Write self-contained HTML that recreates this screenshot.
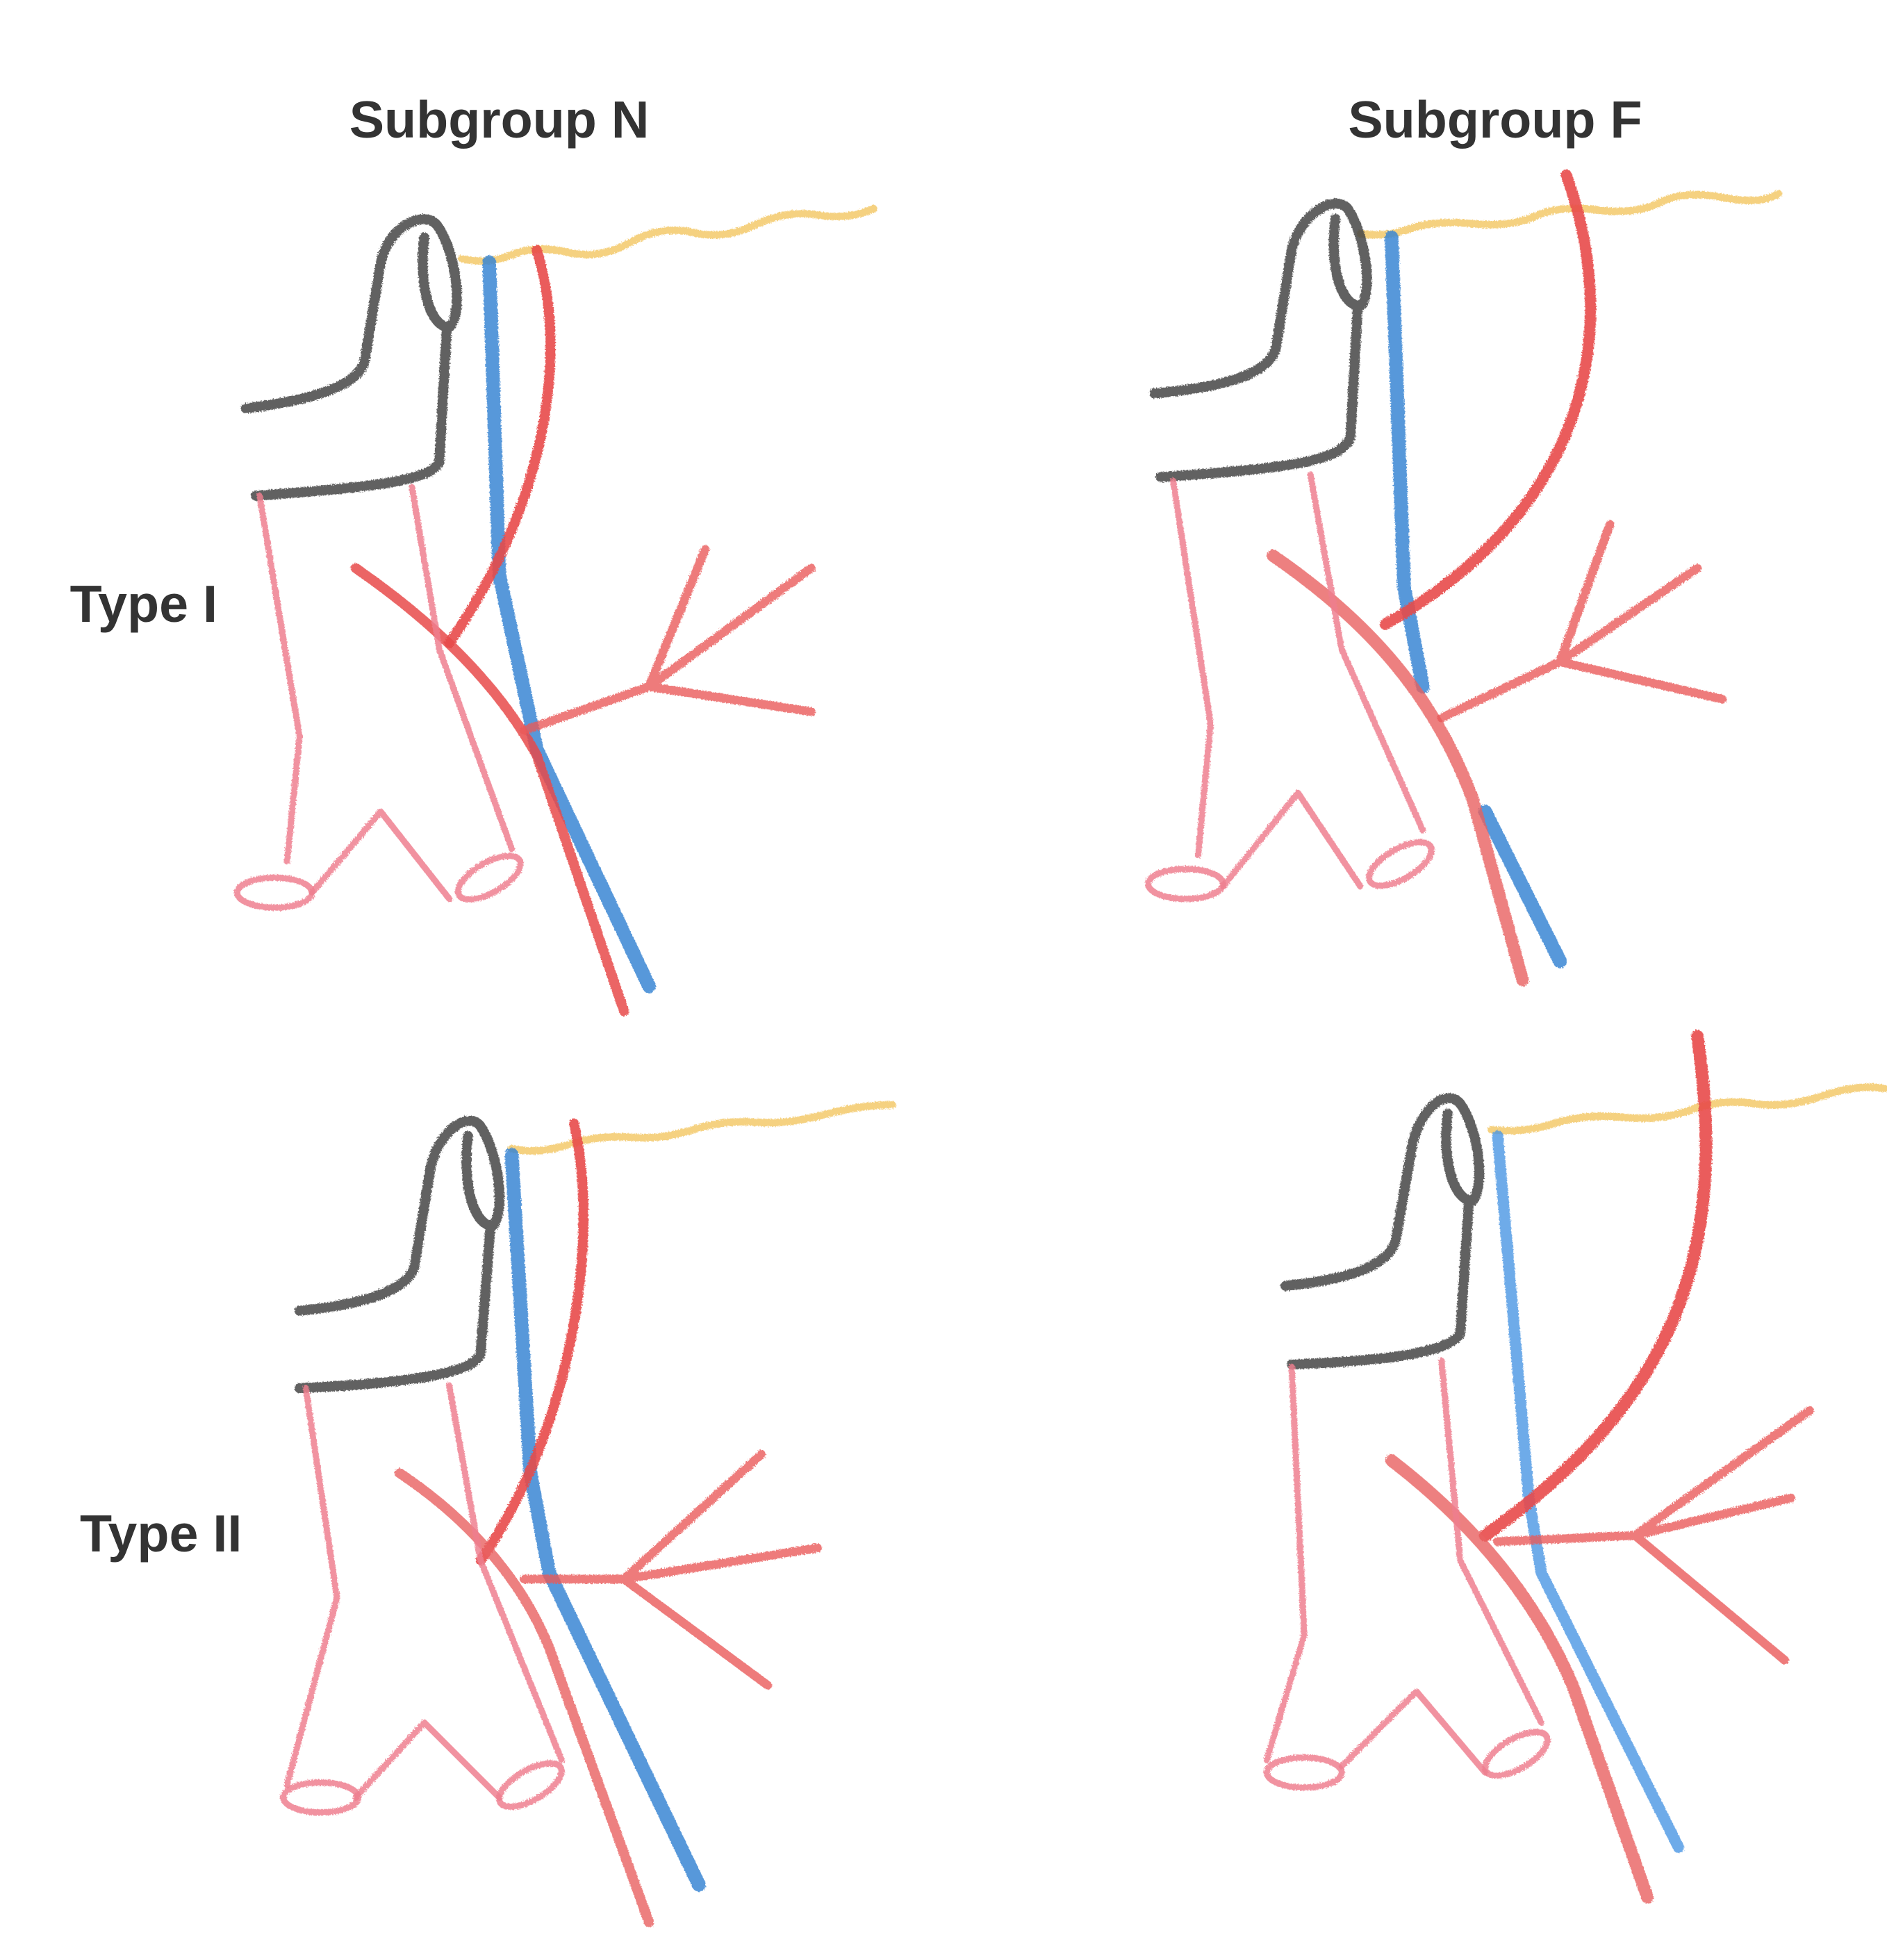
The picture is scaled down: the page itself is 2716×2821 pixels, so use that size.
<!DOCTYPE html>
<html><head><meta charset="utf-8"><style>
html,body{margin:0;padding:0;background:#fff;}
svg{display:block;}
text{font-family:"Liberation Sans",sans-serif;font-weight:bold;fill:#333;}
</style></head><body>
<svg width="2716" height="2821" viewBox="0 0 1512 1570" xmlns="http://www.w3.org/2000/svg">
<defs>
<filter id="cr" x="-5%" y="-5%" width="110%" height="110%">
<feTurbulence type="fractalNoise" baseFrequency="0.9" numOctaves="2" result="n"/>
<feDisplacementMap in="SourceGraphic" in2="n" scale="3"/>
</filter>
</defs>
<rect width="1512" height="1570" fill="#fff"/>
<text x="400" y="110" font-size="42" text-anchor="middle">Subgroup N</text>
<text x="1198" y="110" font-size="42" text-anchor="middle">Subgroup F</text>
<text x="56" y="498" font-size="42">Type I</text>
<text x="64" y="1243" font-size="42">Type II</text>

<g filter="url(#cr)" fill="none" stroke-linecap="round" stroke-linejoin="round">
<!-- Panel 1 -->
<g>
<path d="M370,207 q20,5 40,-3 t45,-2 t50,-8 t50,-8 t50,-6 t50,-8 t45,-5" stroke="#f2c560" stroke-width="6" opacity="0.8"/>
<path d="M392,210 L400,460 L430,600 L520,790" stroke="#3a86d4" stroke-width="11" opacity="0.85"/>
<path d="M430,200 C455,280 440,400 360,515" stroke="#e84a4a" stroke-width="8" opacity="0.9"/>
<path d="M285,455 C350,500 400,550 430,605 L500,810" stroke="#e84a4a" stroke-width="8" opacity="0.85"/>
<path d="M420,585 L520,550 L565,440 M520,550 L650,455 M520,550 L650,570" stroke="#ea5a5a" stroke-width="7" opacity="0.8"/>
<path d="M197,327 C250,320 285,310 292,290 L305,210 C312,180 340,168 350,180 C365,200 372,250 360,262 C345,262 335,230 340,190 M358,262 L352,370 C345,385 300,390 205,397" stroke="#444" stroke-width="8" opacity="0.85"/>
<path d="M208,397 L240,590 L230,690 M330,390 L352,520 L410,680 M250,715 L305,650 L360,720" stroke="#ee7f8f" stroke-width="5" opacity="0.85"/>
<ellipse cx="220" cy="715" rx="30" ry="12" stroke="#ee7f8f" stroke-width="5" opacity="0.85"/>
<ellipse cx="392" cy="703" rx="28" ry="12" transform="rotate(-30 392 703)" stroke="#ee7f8f" stroke-width="5" opacity="0.85"/>
</g>
<!-- Panel 2 -->
<g>
<path d="M1090,187 q20,3 40,-4 t50,-4 t50,-6 t50,-5 t50,-6 t50,-4 t45,-3" stroke="#f2c560" stroke-width="6" opacity="0.8"/>
<path d="M1115,190 L1125,470 L1140,550 M1190,650 L1250,770" stroke="#3a86d4" stroke-width="11" opacity="0.85"/>
<path d="M1255,140 C1295,250 1285,400 1110,500" stroke="#e84a4a" stroke-width="9" opacity="0.9"/>
<path d="M1020,445 C1100,500 1150,560 1180,640 L1220,785" stroke="#e86060" stroke-width="10" opacity="0.8"/>
<path d="M1155,575 L1250,530 L1290,420 M1250,530 L1360,455 M1250,530 L1380,560" stroke="#ea5a5a" stroke-width="7" opacity="0.8"/>
<path d="M925,315 C980,310 1015,300 1022,280 L1035,200 C1042,170 1070,155 1080,167 C1095,190 1100,235 1090,245 C1075,245 1065,215 1070,175 M1088,245 L1082,350 C1075,370 1030,375 930,382" stroke="#444" stroke-width="8" opacity="0.85"/>
<path d="M940,385 L970,580 L960,685 M1050,380 L1075,520 L1140,665 M980,710 L1040,635 L1090,710" stroke="#ee7f8f" stroke-width="5" opacity="0.85"/>
<ellipse cx="950" cy="708" rx="30" ry="12" stroke="#ee7f8f" stroke-width="5" opacity="0.85"/>
<ellipse cx="1122" cy="692" rx="28" ry="12" transform="rotate(-30 1122 692)" stroke="#ee7f8f" stroke-width="5" opacity="0.85"/>
</g>
<!-- Panel 3 -->
<g>
<path d="M410,920 q20,5 45,-3 t50,-6 t50,-6 t50,-6 t55,-6 t55,-8" stroke="#f2c560" stroke-width="6" opacity="0.8"/>
<path d="M410,925 L425,1180 L440,1260 L560,1510" stroke="#3a86d4" stroke-width="11" opacity="0.85"/>
<path d="M460,900 C482,1000 455,1150 385,1250" stroke="#e84a4a" stroke-width="8" opacity="0.9"/>
<path d="M320,1180 C380,1220 420,1270 440,1320 L520,1540" stroke="#e86060" stroke-width="8" opacity="0.8"/>
<path d="M420,1265 L500,1265 L610,1165 M500,1265 L655,1240 M500,1265 L615,1350" stroke="#ea5a5a" stroke-width="7" opacity="0.8"/>
<path d="M240,1050 C290,1045 325,1035 332,1015 L345,935 C352,905 375,890 385,902 C400,925 405,970 395,982 C380,982 370,950 375,910 M393,982 L385,1085 C378,1100 330,1108 240,1112" stroke="#444" stroke-width="8" opacity="0.85"/>
<path d="M245,1112 L270,1280 L230,1430 M360,1110 L385,1250 L450,1410 M285,1440 L340,1380 L400,1440" stroke="#ee7f8f" stroke-width="5" opacity="0.85"/>
<ellipse cx="257" cy="1440" rx="30" ry="12" stroke="#ee7f8f" stroke-width="5" opacity="0.85"/>
<ellipse cx="425" cy="1430" rx="28" ry="12" transform="rotate(-30 425 1430)" stroke="#ee7f8f" stroke-width="5" opacity="0.85"/>
</g>
<!-- Panel 4 -->
<g>
<path d="M1195,905 q25,3 50,-5 t55,-5 t55,-6 t50,-5 t55,-6 t50,-6" stroke="#f2c560" stroke-width="6" opacity="0.8"/>
<path d="M1200,910 L1225,1200 L1235,1260 L1345,1480" stroke="#4a96e4" stroke-width="9" opacity="0.8"/>
<path d="M1360,830 C1385,1000 1345,1120 1190,1230" stroke="#e84a4a" stroke-width="10" opacity="0.9"/>
<path d="M1115,1170 C1180,1220 1230,1280 1260,1350 L1320,1520" stroke="#e86060" stroke-width="10" opacity="0.8"/>
<path d="M1200,1235 L1310,1230 L1450,1130 M1310,1230 L1435,1200 M1310,1230 L1430,1330" stroke="#ea5a5a" stroke-width="7" opacity="0.8"/>
<path d="M1030,1030 C1080,1025 1110,1015 1118,995 L1132,915 C1140,885 1160,872 1170,884 C1185,905 1190,950 1180,962 C1165,962 1155,930 1160,892 M1177,962 L1170,1068 C1162,1083 1115,1090 1035,1093" stroke="#444" stroke-width="8" opacity="0.85"/>
<path d="M1035,1095 L1045,1310 L1015,1410 M1155,1090 L1170,1250 L1235,1380 M1075,1415 L1135,1355 L1190,1420" stroke="#ee7f8f" stroke-width="5" opacity="0.85"/>
<ellipse cx="1045" cy="1420" rx="30" ry="12" stroke="#ee7f8f" stroke-width="5" opacity="0.85"/>
<ellipse cx="1215" cy="1405" rx="28" ry="12" transform="rotate(-30 1215 1405)" stroke="#ee7f8f" stroke-width="5" opacity="0.85"/>
</g>
</g>
</svg>
</body></html>
